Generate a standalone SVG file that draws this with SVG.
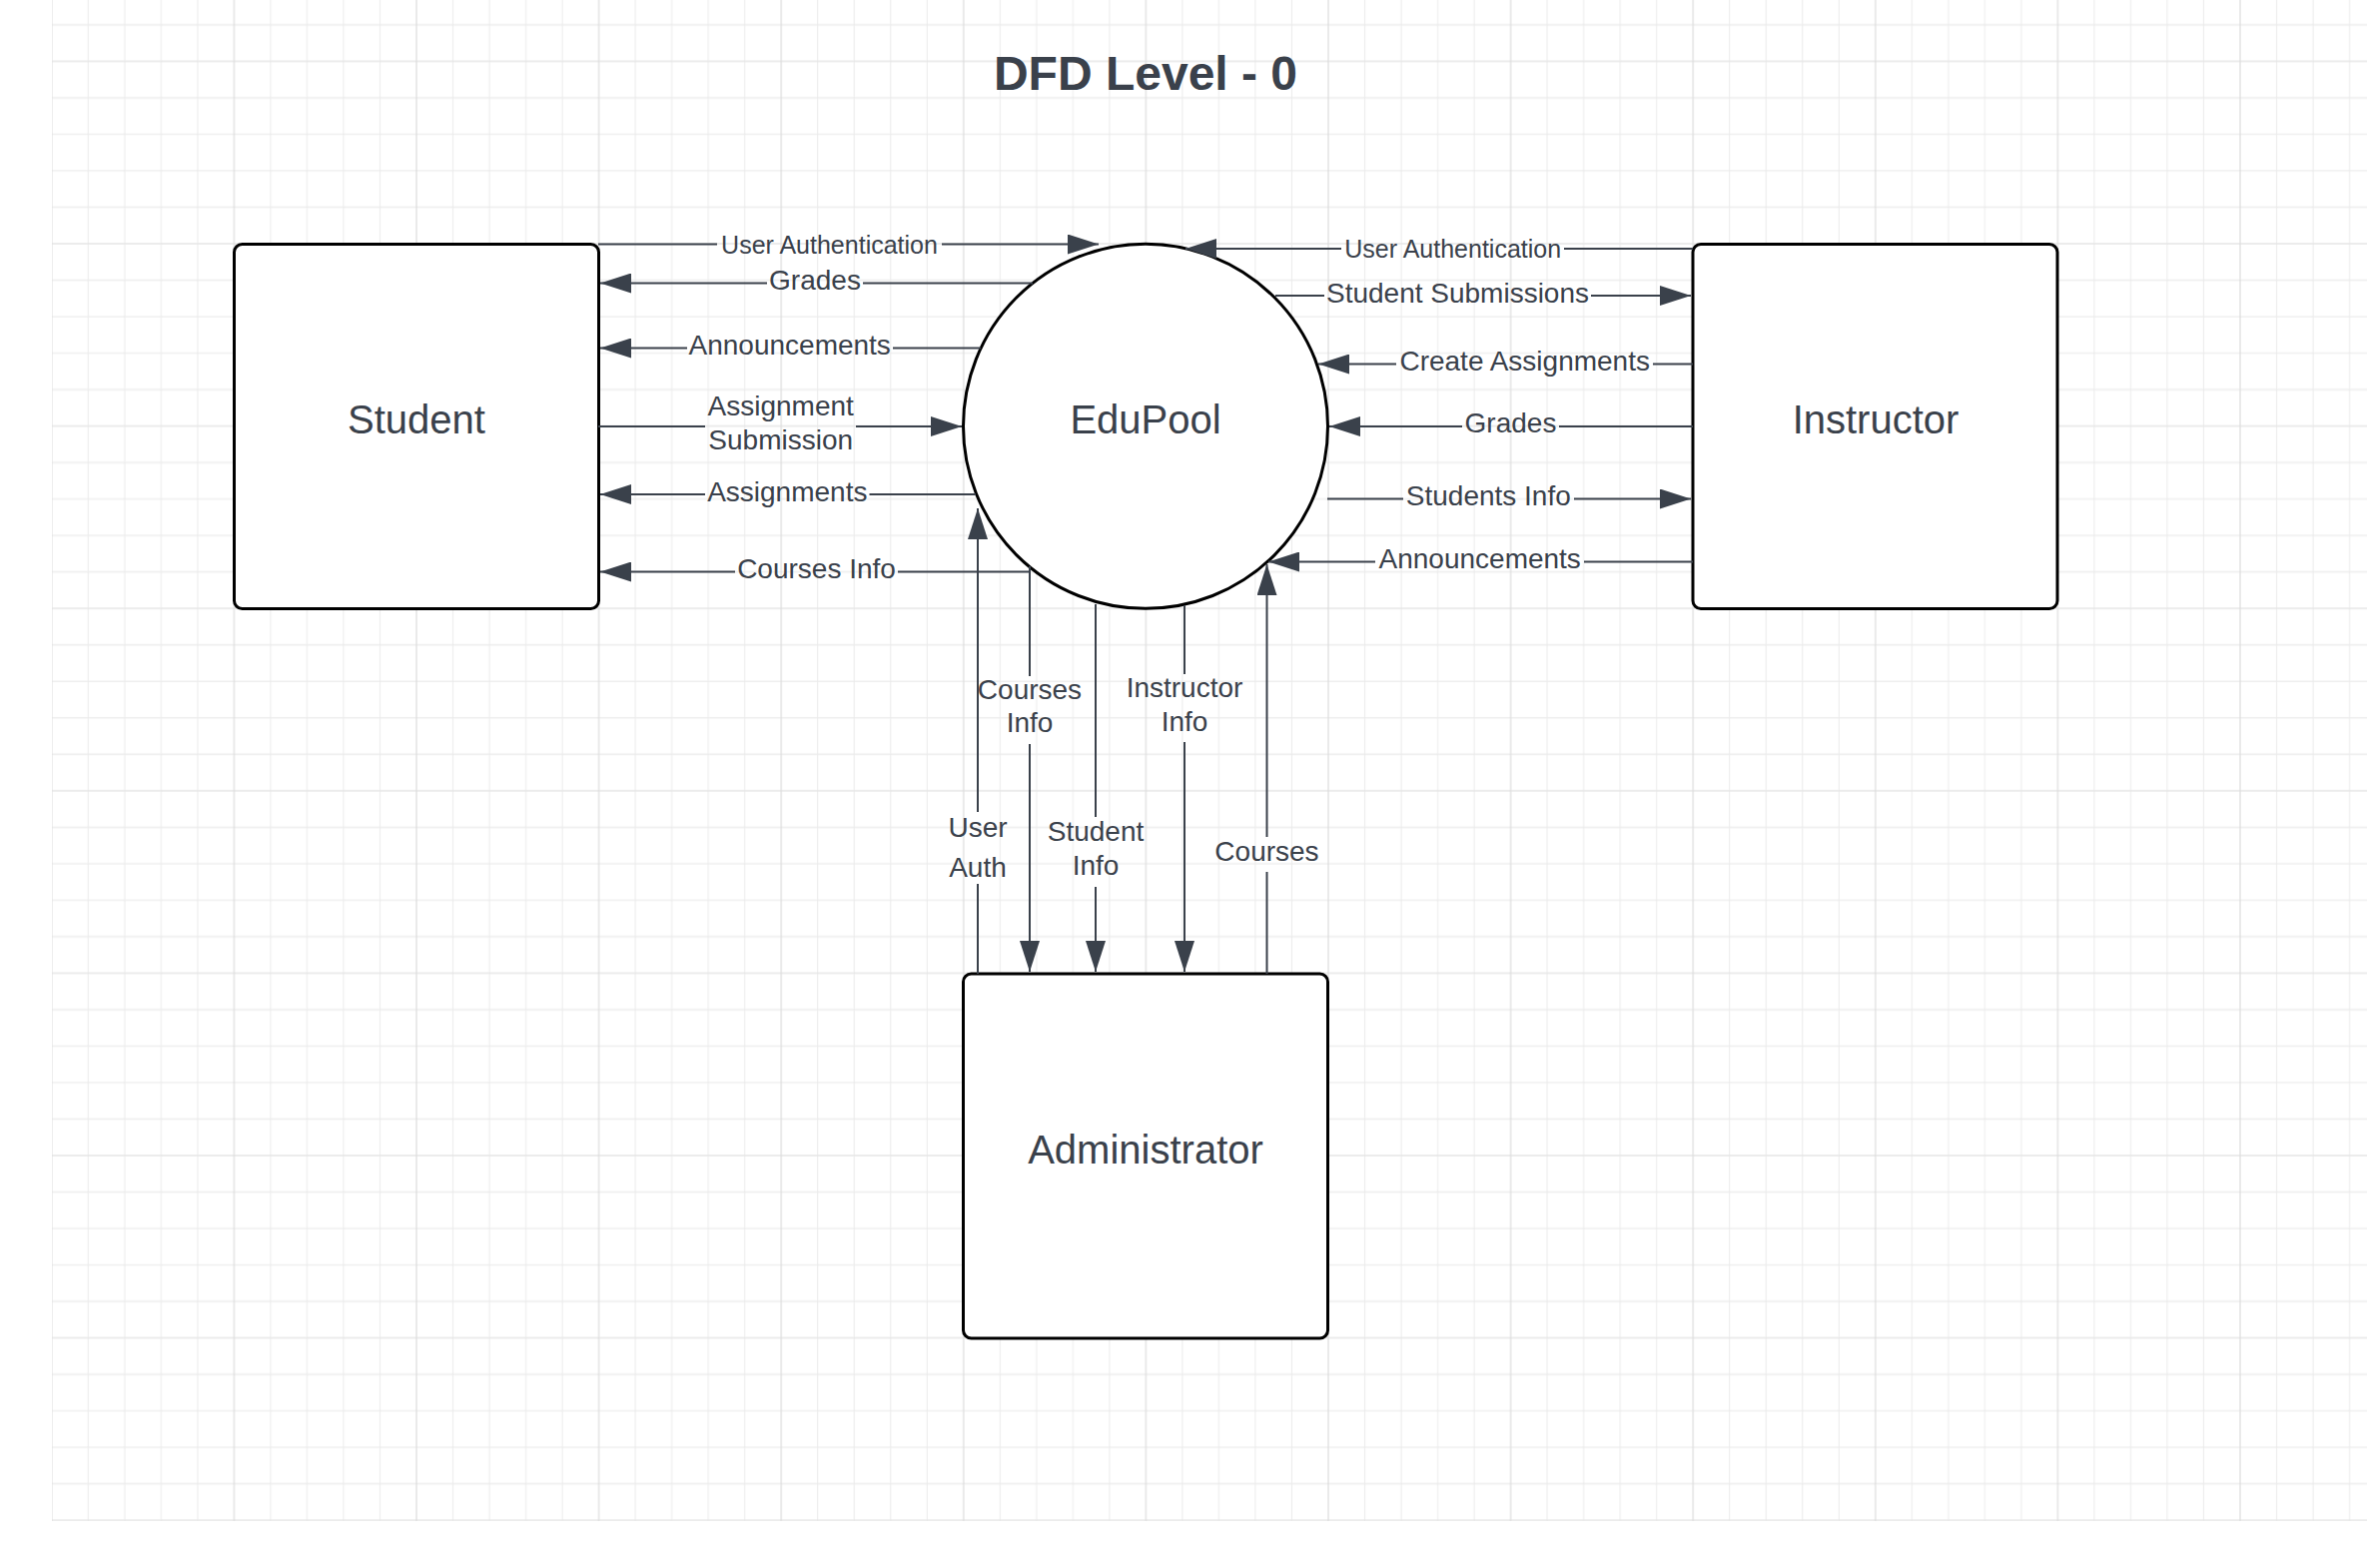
<svg xmlns="http://www.w3.org/2000/svg" width="2370" height="1570" viewBox="0 0 2370 1570">
<style>
.node{fill:#ffffff;stroke:#000000;stroke-width:3}
.nlabel{font-family:"Liberation Sans",Arial,sans-serif;font-size:40px;fill:#3a414b;text-anchor:middle}
.title{font-family:"Liberation Sans",Arial,sans-serif;font-size:48px;font-weight:bold;fill:#3a414b;text-anchor:middle}
.edge{fill:none;stroke:#3a414b;stroke-width:2;marker-end:url(#arrow)}
.el{font-family:"Liberation Sans",Arial,sans-serif;font-size:28px;fill:#3a414b;text-anchor:middle}
.el25{font-family:"Liberation Sans",Arial,sans-serif;font-size:25px;fill:#3a414b;text-anchor:middle}
</style>
<defs>
<marker id="arrow" markerUnits="userSpaceOnUse" viewBox="0 0 31 20" markerWidth="31" markerHeight="20" refX="31" refY="10" orient="auto">
<path d="M0,0 L31,10 L0,20 Z" fill="#3a414b"/>
</marker>
<pattern id="grid" x="51.8" y="-121.2" width="182.6" height="182.6" patternUnits="userSpaceOnUse">
<path d="M0,36.52 H182.6 M0,73.04 H182.6 M0,109.56 H182.6 M0,146.08 H182.6" stroke="#efefef" stroke-width="1.6" fill="none"/>
<path d="M36.52,0 V182.6 M73.04,0 V182.6 M109.56,0 V182.6 M146.08,0 V182.6" stroke="#ebebeb" stroke-width="1" fill="none"/>
<path d="M0,0 H182.6 M0,182.6 H182.6" stroke="#e6e6e6" stroke-width="1.6" fill="none"/>
<path d="M0,0 V182.6 M182.6,0 V182.6" stroke="#dcdcdc" stroke-width="1.2" fill="none"/>
</pattern>
</defs>
<rect x="0" y="0" width="2370" height="1570" fill="#ffffff"/>
<rect x="52" y="0" width="2318" height="1523" fill="url(#grid)"/>
<text class="title" x="1147" y="90">DFD Level - 0</text>

<g id="student">
<rect class="node" x="234.5" y="244.5" width="365" height="365" rx="8"/>
<text class="nlabel" x="417" y="434">Student</text>
</g>
<g id="edupool">
<circle class="node" cx="1147" cy="426.8" r="182.5"/>
<text class="nlabel" x="1147" y="434">EduPool</text>
</g>
<g id="instructor">
<rect class="node" x="1695" y="244.5" width="365" height="365" rx="8"/>
<text class="nlabel" x="1878" y="434">Instructor</text>
</g>
<g id="administrator">
<rect class="node" x="964.5" y="975" width="365" height="365" rx="8"/>
<text class="nlabel" x="1147" y="1165">Administrator</text>
</g>

<g id="connectors">
<g id="e1">
<path class="edge" d="M599,244.5 H718 M943,244.5 H1100"/>
<text class="el25" x="830.5" y="253.5">User Authentication</text>
</g>
<g id="e2">
<path class="edge" d="M1034,283.5 H864 M768,283.5 H601"/>
<text class="el" x="816" y="290">Grades</text>
</g>
<g id="e3">
<path class="edge" d="M982,348.5 H894 M688,348.5 H601"/>
<text class="el" x="790.7" y="355">Announcements</text>
</g>
<g id="e4">
<path class="edge" d="M599,427 H706 M857,427 H963"/>
<text class="el" x="781.7" y="415.7">Assignment</text>
<text class="el" x="781.7" y="450">Submission</text>
</g>
<g id="e5">
<path class="edge" d="M977,495 H870.5 M706,495 H601"/>
<text class="el" x="788.3" y="501.7">Assignments</text>
</g>
<g id="e6">
<path class="edge" d="M1031,572.5 H899 M736,572.5 H601"/>
<text class="el" x="817.5" y="579.2">Courses Info</text>
</g>
<g id="e7">
<path class="edge" d="M1031,567 V677 M1031,745 V973"/>
<text class="el" x="1031" y="700">Courses</text>
<text class="el" x="1031" y="733.3">Info</text>
</g>
<g id="e8">
<path class="edge" d="M979,975 V885 M979,813 V509"/>
<text class="el" x="979" y="838.3">User</text>
<text class="el" x="979" y="878.3">Auth</text>
</g>
<g id="e9">
<path class="edge" d="M1097,605 V818 M1097,888 V973"/>
<text class="el" x="1097" y="842.3">Student</text>
<text class="el" x="1097" y="876">Info</text>
</g>
<g id="e10">
<path class="edge" d="M1186,606 V675 M1186,743 V973"/>
<text class="el" x="1186" y="698.3">Instructor</text>
<text class="el" x="1186" y="731.7">Info</text>
</g>
<g id="e11">
<path class="edge" d="M1268.5,975 V873 M1268.5,838 V565"/>
<text class="el" x="1268.5" y="861.7">Courses</text>
</g>
<g id="e12">
<path class="edge" d="M1695,249 H1566 M1343,249 H1187"/>
<text class="el25" x="1454.7" y="257.5">User Authentication</text>
</g>
<g id="e13">
<path class="edge" d="M1277,296 H1326 M1593,296 H1693"/>
<text class="el" x="1459.5" y="302.5">Student Submissions</text>
</g>
<g id="e14">
<path class="edge" d="M1695,364.5 H1655 M1398,364.5 H1320"/>
<text class="el" x="1526.7" y="371">Create Assignments</text>
</g>
<g id="e15">
<path class="edge" d="M1695,427 H1561 M1464,427 H1331"/>
<text class="el" x="1512.5" y="433">Grades</text>
</g>
<g id="e16">
<path class="edge" d="M1329,499.5 H1405 M1576,499.5 H1693"/>
<text class="el" x="1490.3" y="506">Students Info</text>
</g>
<g id="e17">
<path class="edge" d="M1695,562.5 H1586 M1377,562.5 H1270"/>
<text class="el" x="1481.7" y="569">Announcements</text>
</g>
</g>
</svg>
